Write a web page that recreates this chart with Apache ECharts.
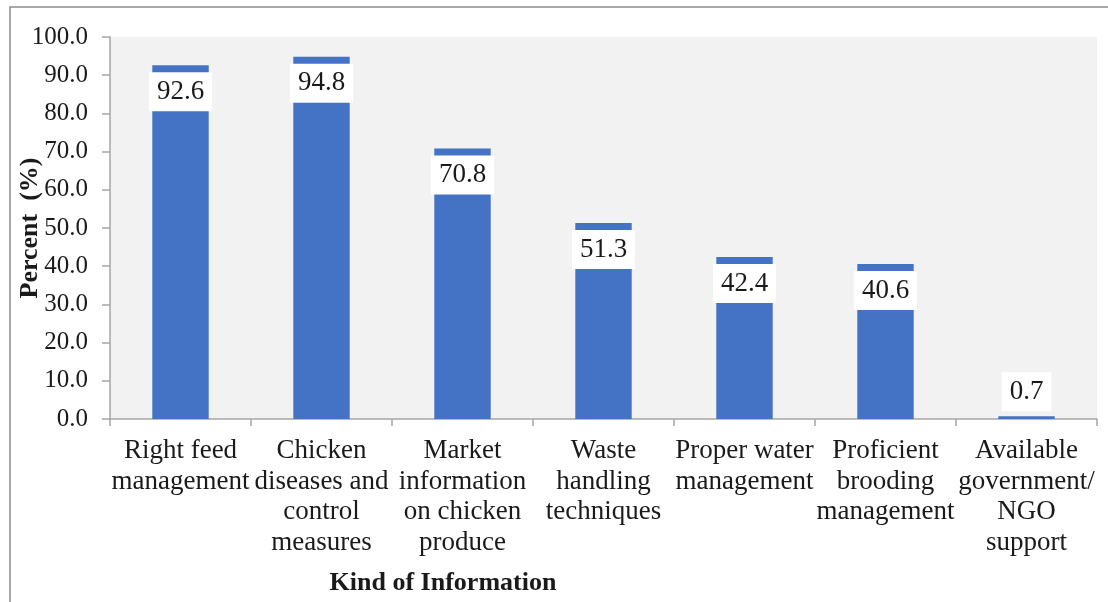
<!DOCTYPE html>
<html>
<head>
<meta charset="utf-8">
<script src="https://cdn.jsdelivr.net/npm/echarts@6/dist/echarts.min.js"></script>
<style>
  html, body { margin: 0; padding: 0; background: #fff; }
  #chart { width: 1108px; height: 602px; }
</style>
</head>
<body>
<div id="chart"></div>
<script>
// Kinds of information received, share of respondents (%)
const categories = [
  'Right feed\nmanagement',
  'Chicken\ndiseases and\ncontrol\nmeasures',
  'Market\ninformation\non chicken\nproduce',
  'Waste\nhandling\ntechniques',
  'Proper water\nmanagement',
  'Proficient\nbrooding\nmanagement',
  'Available\ngovernment/\nNGO\nsupport'
];
const percentValues = [92.6, 94.8, 70.8, 51.3, 42.4, 40.6, 0.7];
const yTicks = { min: 0, max: 100, interval: 10 };

const serif = "'Liberation Serif', 'Times New Roman', serif";
const ink = '#1a1a1a';
const axisGray = '#a6a6a6';

const barData = percentValues.map(function (v) {
  // very short bars carry their label above the bar
  if (v < 10) {
    return { value: v, label: { position: 'top', distance: 5 } };
  }
  return v;
});

const chart = echarts.init(document.getElementById('chart'), null, { renderer: 'canvas' });
chart.setOption({
  backgroundColor: '#ffffff',
  animation: false,
  grid: {
    left: 110, right: 11, top: 37, bottom: 183,
    outerBoundsMode: 'none',
    containLabel: false,
    show: true, backgroundColor: '#f2f2f2', borderWidth: 0
  },
  graphic: [
    {
      type: 'rect',
      shape: { x: 10, y: 7, width: 1120, height: 620 },
      style: { fill: 'none', stroke: '#8c8c8c', lineWidth: 1.5 },
      silent: true, z: -1
    },
    {
      type: 'text',
      x: 443, y: 583,
      style: {
        text: 'Kind of Information',
        font: 'bold 26px ' + serif,
        fill: ink,
        align: 'center',
        verticalAlign: 'middle'
      }
    }
  ],
  xAxis: {
    type: 'category',
    data: categories,
    boundaryGap: true,
    axisLine: { show: true, lineStyle: { color: axisGray, width: 1.5 } },
    axisTick: { show: true, alignWithLabel: false, length: 7, lineStyle: { color: axisGray, width: 1.5 } },
    axisLabel: {
      interval: 0,
      margin: 17,
      fontFamily: serif,
      fontSize: 27,
      lineHeight: 30.5,
      color: ink,
      align: 'center'
    },
    splitLine: { show: false }
  },
  yAxis: {
    type: 'value',
    min: yTicks.min,
    max: yTicks.max,
    interval: yTicks.interval,
    name: 'Percent  (%)',
    nameLocation: 'middle',
    nameGap: 67,
    nameMoveOverlap: false,
    nameRotate: 90,
    nameTextStyle: { fontFamily: serif, fontSize: 26, fontWeight: 'bold', color: ink },
    axisLine: { show: true, lineStyle: { color: axisGray, width: 1.5 } },
    axisTick: { show: true, length: 8, lineStyle: { color: axisGray, width: 1.5 } },
    axisLabel: {
      margin: 22,
      fontFamily: serif,
      fontSize: 25,
      color: ink,
      formatter: function (v) { return v.toFixed(1); }
    },
    splitLine: { show: false }
  },
  series: [{
    type: 'bar',
    data: barData,
    barWidth: '40%',
    itemStyle: { color: '#4472c4' },
    label: {
      show: true,
      position: 'insideTop',
      distance: 7,
      backgroundColor: '#ffffff',
      padding: [5, 8],
      fontFamily: serif,
      fontSize: 27,
      lineHeight: 29,
      color: ink,
      formatter: function (p) { return p.value.toFixed(1); }
    }
  }]
});
</script>
</body>
</html>
